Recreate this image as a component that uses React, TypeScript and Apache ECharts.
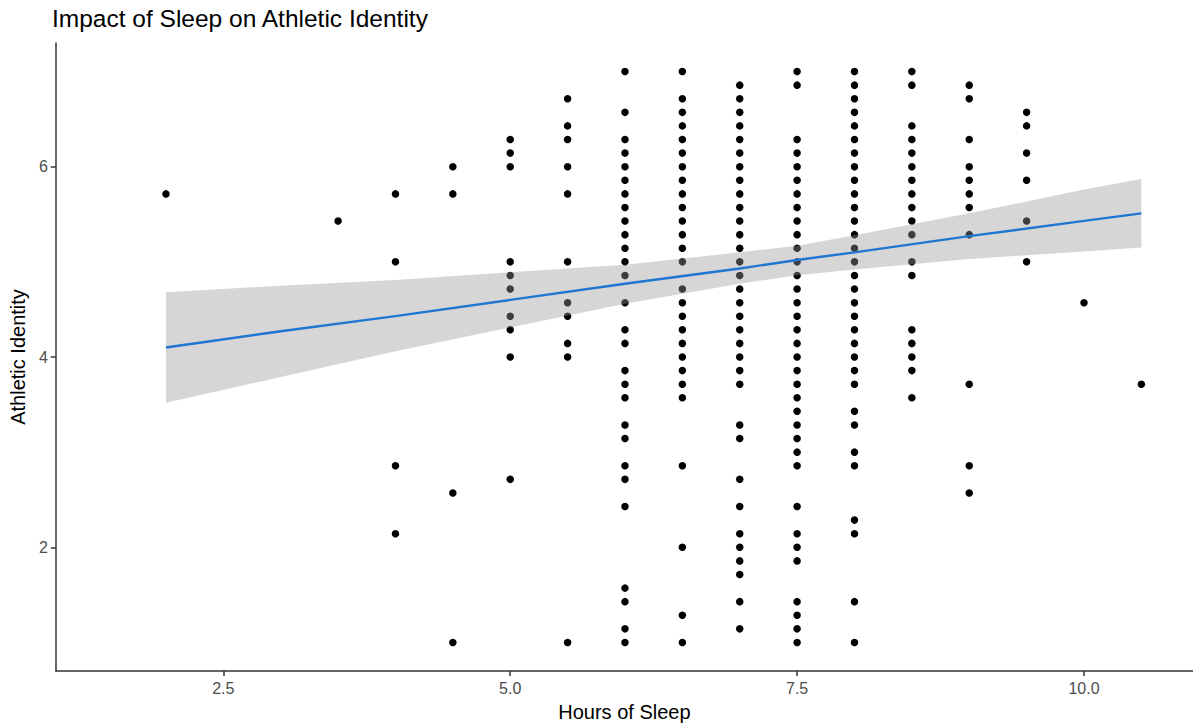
import React, { useEffect, useRef } from "react";
import * as echarts from "echarts";

// Hours of sleep (x groups) and Athletic Identity values observed at each
const hours = [2, 3.5, 4, 4.5, 5, 5.5, 6, 6.5, 7, 7.5, 8, 8.5, 9, 9.5, 10, 10.5];

const id_2_0 = [5.714];
const id_3_5 = [5.429];
const id_4_0 = [5.714, 5.0, 2.857, 2.143];
const id_4_5 = [6.0, 5.714, 2.571, 1.0];
const id_5_0 = [6.286, 6.143, 6.0, 5.0, 4.857, 4.714, 4.429, 4.286, 4.0, 2.714];
const id_5_5 = [6.714, 6.429, 6.286, 6.0, 5.714, 5.0, 4.571, 4.429, 4.143, 4.0, 1.0];
const id_6_0 = [7.0, 6.571, 6.286, 6.143, 6.0, 5.857, 5.714, 5.571, 5.429, 5.286, 5.143, 5.0, 4.857, 4.571, 4.286, 4.143, 3.857, 3.714, 3.571, 3.286, 3.143, 2.857, 2.714, 2.429, 1.571, 1.429, 1.143, 1.0];
const id_6_5 = [7.0, 6.714, 6.571, 6.429, 6.286, 6.143, 6.0, 5.857, 5.714, 5.571, 5.429, 5.286, 5.143, 5.0, 4.714, 4.571, 4.429, 4.286, 4.143, 4.0, 3.857, 3.714, 3.571, 2.857, 2.0, 1.286, 1.0];
const id_7_0 = [6.857, 6.714, 6.571, 6.429, 6.286, 6.143, 6.0, 5.857, 5.714, 5.571, 5.429, 5.286, 5.143, 5.0, 4.857, 4.714, 4.571, 4.429, 4.286, 4.143, 4.0, 3.857, 3.714, 3.286, 3.143, 2.714, 2.429, 2.143, 2.0, 1.857, 1.714, 1.429, 1.143];
const id_7_5 = [7.0, 6.857, 6.286, 6.143, 6.0, 5.857, 5.714, 5.571, 5.429, 5.286, 5.143, 5.0, 4.857, 4.714, 4.571, 4.429, 4.286, 4.143, 4.0, 3.857, 3.714, 3.571, 3.429, 3.286, 3.143, 3.0, 2.857, 2.429, 2.143, 2.0, 1.857, 1.429, 1.286, 1.143, 1.0];
const id_8_0 = [7.0, 6.857, 6.714, 6.571, 6.429, 6.286, 6.143, 6.0, 5.857, 5.714, 5.571, 5.429, 5.286, 5.143, 5.0, 4.857, 4.714, 4.571, 4.429, 4.286, 4.143, 4.0, 3.857, 3.714, 3.429, 3.286, 3.0, 2.857, 2.286, 2.143, 1.429, 1.0];
const id_8_5 = [7.0, 6.857, 6.429, 6.286, 6.143, 6.0, 5.857, 5.714, 5.571, 5.429, 5.286, 5.0, 4.857, 4.286, 4.143, 4.0, 3.857, 3.571];
const id_9_0 = [6.857, 6.714, 6.286, 6.0, 5.857, 5.714, 5.571, 5.286, 3.714, 2.857, 2.571];
const id_9_5 = [6.571, 6.429, 6.143, 5.857, 5.429, 5.0];
const id_10_0 = [4.571];
const id_10_5 = [3.714];

const identityByHours = [
  id_2_0, id_3_5, id_4_0, id_4_5, id_5_0, id_5_5, id_6_0, id_6_5,
  id_7_0, id_7_5, id_8_0, id_8_5, id_9_0, id_9_5, id_10_0, id_10_5,
];

// Linear fit and its confidence band
const bandX = [2, 3, 4, 5, 6, 7, 7.5, 8, 9, 10, 10.5];
const fitY = [4.10, 4.27, 4.43, 4.60, 4.77, 4.93, 5.02, 5.10, 5.27, 5.43, 5.51];
const bandLower = [3.52, 3.79, 4.06, 4.31, 4.56, 4.77, 4.86, 4.92, 5.03, 5.11, 5.15];
const bandUpper = [4.68, 4.75, 4.81, 4.89, 4.97, 5.10, 5.17, 5.28, 5.51, 5.76, 5.87];

const xTicks = [2.5, 5.0, 7.5, 10.0];
const yTicks = [2, 4, 6];

const FONT = "'Liberation Sans', Arial, sans-serif";

export default function App() {
  const ref = useRef<HTMLDivElement>(null);

  useEffect(() => {
    if (!ref.current) return;
    const chart = echarts.init(ref.current, null, { renderer: "svg" });

    const points: number[][] = [];
    hours.forEach((h, i) => {
      identityByHours[i].forEach((v) => points.push([h, v]));
    });

    const axisLineStyle = { color: "#333333", width: 1.5 };

    chart.setOption({
      animation: false,
      backgroundColor: "#ffffff",
      textStyle: { fontFamily: FONT },
      title: {
        text: "Impact of Sleep on Athletic Identity",
        left: 52,
        top: 6,
        padding: 0,
        textStyle: { fontFamily: FONT, fontSize: 24.5, fontWeight: "normal", color: "#000000" },
      },
      grid: { left: 51, right: 0, top: 43, bottom: 56, containLabel: false },
      xAxis: {
        type: "value",
        min: 1.04,
        max: 10.95,
        name: "Hours of Sleep",
        nameLocation: "middle",
        nameGap: 31,
        nameTextStyle: { fontFamily: FONT, fontSize: 20, color: "#000000" },
        axisLine: { show: true, lineStyle: axisLineStyle },
        axisTick: { show: true, length: 5, lineStyle: axisLineStyle, customValues: xTicks },
        axisLabel: {
          customValues: xTicks,
          formatter: (v: number) => v.toFixed(1),
          color: "#4D4D4D",
          fontSize: 16,
          fontFamily: FONT,
          margin: 9,
        },
        splitLine: { show: false },
      },
      yAxis: {
        type: "value",
        min: 0.7,
        max: 7.3,
        name: "Athletic Identity",
        nameLocation: "middle",
        nameRotate: 90,
        nameGap: 23,
        nameTextStyle: { fontFamily: FONT, fontSize: 20, color: "#000000" },
        axisLine: { show: true, lineStyle: axisLineStyle },
        axisTick: { show: true, length: 5, lineStyle: axisLineStyle, customValues: yTicks },
        axisLabel: {
          customValues: yTicks,
          formatter: (v: number) => String(v),
          color: "#4D4D4D",
          fontSize: 16,
          fontFamily: FONT,
          margin: 8,
        },
        splitLine: { show: false },
      },
      series: [
        {
          type: "scatter",
          data: points,
          symbol: "circle",
          symbolSize: 7.5,
          itemStyle: { color: "#000000", opacity: 1 },
          z: 1,
          silent: true,
        },
        {
          type: "custom",
          data: bandX.map((x, i) => [x, bandLower[i], bandUpper[i]]),
          encode: { x: 0, y: [1, 2] },
          z: 2,
          silent: true,
          renderItem: (params: any, api: any) => {
            if (params.dataIndex !== 0) return null;
            const pts: number[][] = [];
            for (let i = 0; i < bandX.length; i++) pts.push(api.coord([bandX[i], bandUpper[i]]));
            for (let i = bandX.length - 1; i >= 0; i--) pts.push(api.coord([bandX[i], bandLower[i]]));
            return {
              type: "polygon",
              shape: { points: pts },
              style: { fill: "rgba(153,153,153,0.4)", stroke: "none" },
            };
          },
        },
        {
          type: "line",
          data: bandX.map((x, i) => [x, fitY[i]]),
          showSymbol: false,
          symbol: "none",
          lineStyle: { color: "#2176D2", width: 2.4 },
          z: 3,
          silent: true,
        },
      ],
    });

    return () => chart.dispose();
  }, []);

  return (
    <div
      ref={ref}
      style={{ position: "fixed", left: 0, top: 0, width: 1193, height: 727, background: "#fff" }}
    />
  );
}
